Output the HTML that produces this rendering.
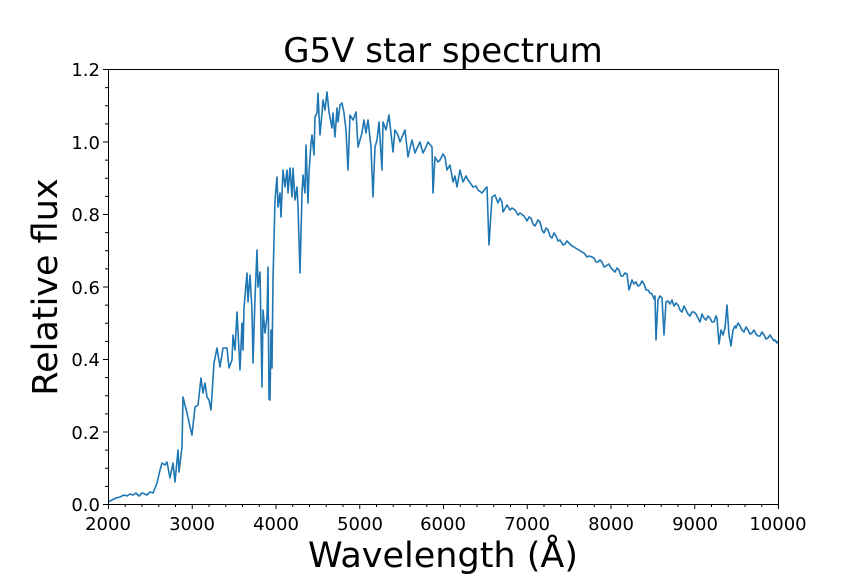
<!DOCTYPE html>
<html><head><meta charset="utf-8"><style>body{margin:0;background:#fff}svg{display:block;font-family:"DejaVu Sans","Liberation Sans",sans-serif}</style></head><body>
<svg width="864" height="576" viewBox="0 0 864 576" xmlns="http://www.w3.org/2000/svg">
<rect width="864" height="576" fill="#fff"/>
<polyline fill="none" stroke="#1f77b4" stroke-width="1.6" stroke-linejoin="round" points="
108,502 112,500 116,498 120,497 124,495 127,496 130,494 133,495 136,493 139,496 142,493 145,494 147,495 150,492 153,493 157,483 160,470 162,463 165,465 167,462 170,478 173,463 175,482 178,450 179,472 182,447 183,397 185,405 187,413 190,427 192,435 195,407 198,405 201,378 203,393 205,383 207,397 209,400 211,410 214,363 217,348 220,367 223,348 227,348 229,368 232,360 233,335 235,350 237,312 240,370 242,323 243,350 244,308 247,273 248,302 250,275 252,310 253,363 255,298 257,250 258,287 260,272 262,387 263,310 265,333 267,317 268,267 269,399 270,400 271,330 272,368 273,280 275,200 277,177 278,207 280,193 281,217 283,170 285,187 287,170 288,193 290,168 292,197 293,168 295,200 297,187 298,207 300,273 302,193 303,175 305,193 306,145 308,203 309,173 311,143 312,135 314,155 315,117 317,113 318,93 320,135 322,113 323,100 325,110 327,92 329,112 332,128 333,113 335,137 337,108 338,122 340,105 342,103 344,113 346,130 348,170 350,115 353,120 356,112 358,147 362,133 364,120 366,133 368,120 371,147 373,197 375,147 377,140 379,122 382,170 383,122 386,130 389,115 393,152 395,130 398,135 400,142 402,137 405,130 408,157 410,148 412,140 415,153 418,146 420,142 423,153 426,147 428,142 432,147 433,193 435,157 438,162 440,160 443,154 445,157 447,170 450,165 453,182 455,176 457,187 460,170 463,182 466,176 468,180 471,184 473,187 476,186 478,190 482,193 485,189 487,187 489,245 492,197 495,195 498,203 500,198 502,202 503,212 507,205 510,210 512,208 515,210 518,215 520,213 524,216 527,221 529,217 531,218 533,224 535,226 538,220 540,222 542,230 544,233 546,228 548,230 550,236 552,238 554,233 556,236 558,241 560,240 563,245 565,244 567,241 569,243 572,246 574,247 577,249 579,250 582,252 584,253 587,257 589,256 592,257 594,258 596,262 598,262 600,260 602,262 604,267 606,266 609,264 611,268 613,270 615,272 617,268 619,270 621,276 623,276 625,273 627,274 629,290 632,280 634,284 636,282 638,286 640,285 642,281 644,284 646,290 648,290 650,293 652,294 654,299 655,296 656,340 658,300 660,296 662,298 664,335 666,302 668,301 670,304 672,300 674,306 676,303 678,305 680,310 682,312 684,306 686,310 688,314 690,316 692,312 694,312 696,314 698,318 700,322 702,314 704,318 706,320 708,316 710,318 712,322 714,322 716,316 717,318 719,344 721,330 723,335 725,328 727,305 729,335 731,346 733,330 735,326 736,328 738,323 740,326 742,330 744,332 746,327 748,330 750,334 752,333 754,330 756,334 758,336 760,336 762,332 764,335 766,339 768,338 770,335 772,338 774,341 775,340 777,343 778,341"/>
<rect x="108.5" y="69.5" width="670" height="435" fill="none" stroke="#000" stroke-width="1"/>
<g stroke="#000" stroke-width="1">
<path d="M108.5,504v5M192.25,504v5M276,504v5M359.75,504v5M443.5,504v5M527.25,504v5M611,504v5M694.75,504v5M778.5,504v5"/>
<path d="M125.25,504v3M142,504v3M158.75,504v3M175.5,504v3M209,504v3M225.75,504v3M242.5,504v3M259.25,504v3M292.75,504v3M309.5,504v3M326.25,504v3M343,504v3M376.5,504v3M393.25,504v3M410,504v3M426.75,504v3M460.25,504v3M477,504v3M493.75,504v3M510.5,504v3M544,504v3M560.75,504v3M577.5,504v3M594.25,504v3M627.75,504v3M644.5,504v3M661.25,504v3M678,504v3M711.5,504v3M728.25,504v3M745,504v3M761.75,504v3"/>
<path d="M108,504.5h-5M108,432h-5M108,359.5h-5M108,287h-5M108,214.5h-5M108,142h-5M108,69.5h-5"/>
<path d="M108,486.4h-3M108,468.3h-3M108,450.1h-3M108,413.9h-3M108,395.8h-3M108,377.6h-3M108,341.4h-3M108,323.3h-3M108,305.1h-3M108,268.9h-3M108,250.8h-3M108,232.6h-3M108,196.4h-3M108,178.3h-3M108,160.1h-3M108,123.9h-3M108,105.8h-3M108,87.6h-3"/>
</g>
<g font-size="18" fill="#000" text-anchor="middle">
<text x="108" y="530">2000</text><text x="192" y="530">3000</text><text x="276" y="530">4000</text><text x="360" y="530">5000</text><text x="443" y="530">6000</text><text x="527" y="530">7000</text><text x="611" y="530">8000</text><text x="695" y="530">9000</text><text x="778" y="530">10000</text>
</g>
<g font-size="18" fill="#000" text-anchor="end">
<text x="100" y="511">0.0</text><text x="100" y="439">0.2</text><text x="100" y="366">0.4</text><text x="100" y="294">0.6</text><text x="100" y="221">0.8</text><text x="100" y="149">1.0</text><text x="100" y="76">1.2</text>
</g>
<text x="443" y="62" font-size="34" text-anchor="middle">G5V star spectrum</text>
<text x="443" y="567" font-size="35" text-anchor="middle">Wavelength (Å)</text>
<text transform="translate(57,287) rotate(-90)" font-size="35" text-anchor="middle">Relative flux</text>
</svg>
</body></html>
